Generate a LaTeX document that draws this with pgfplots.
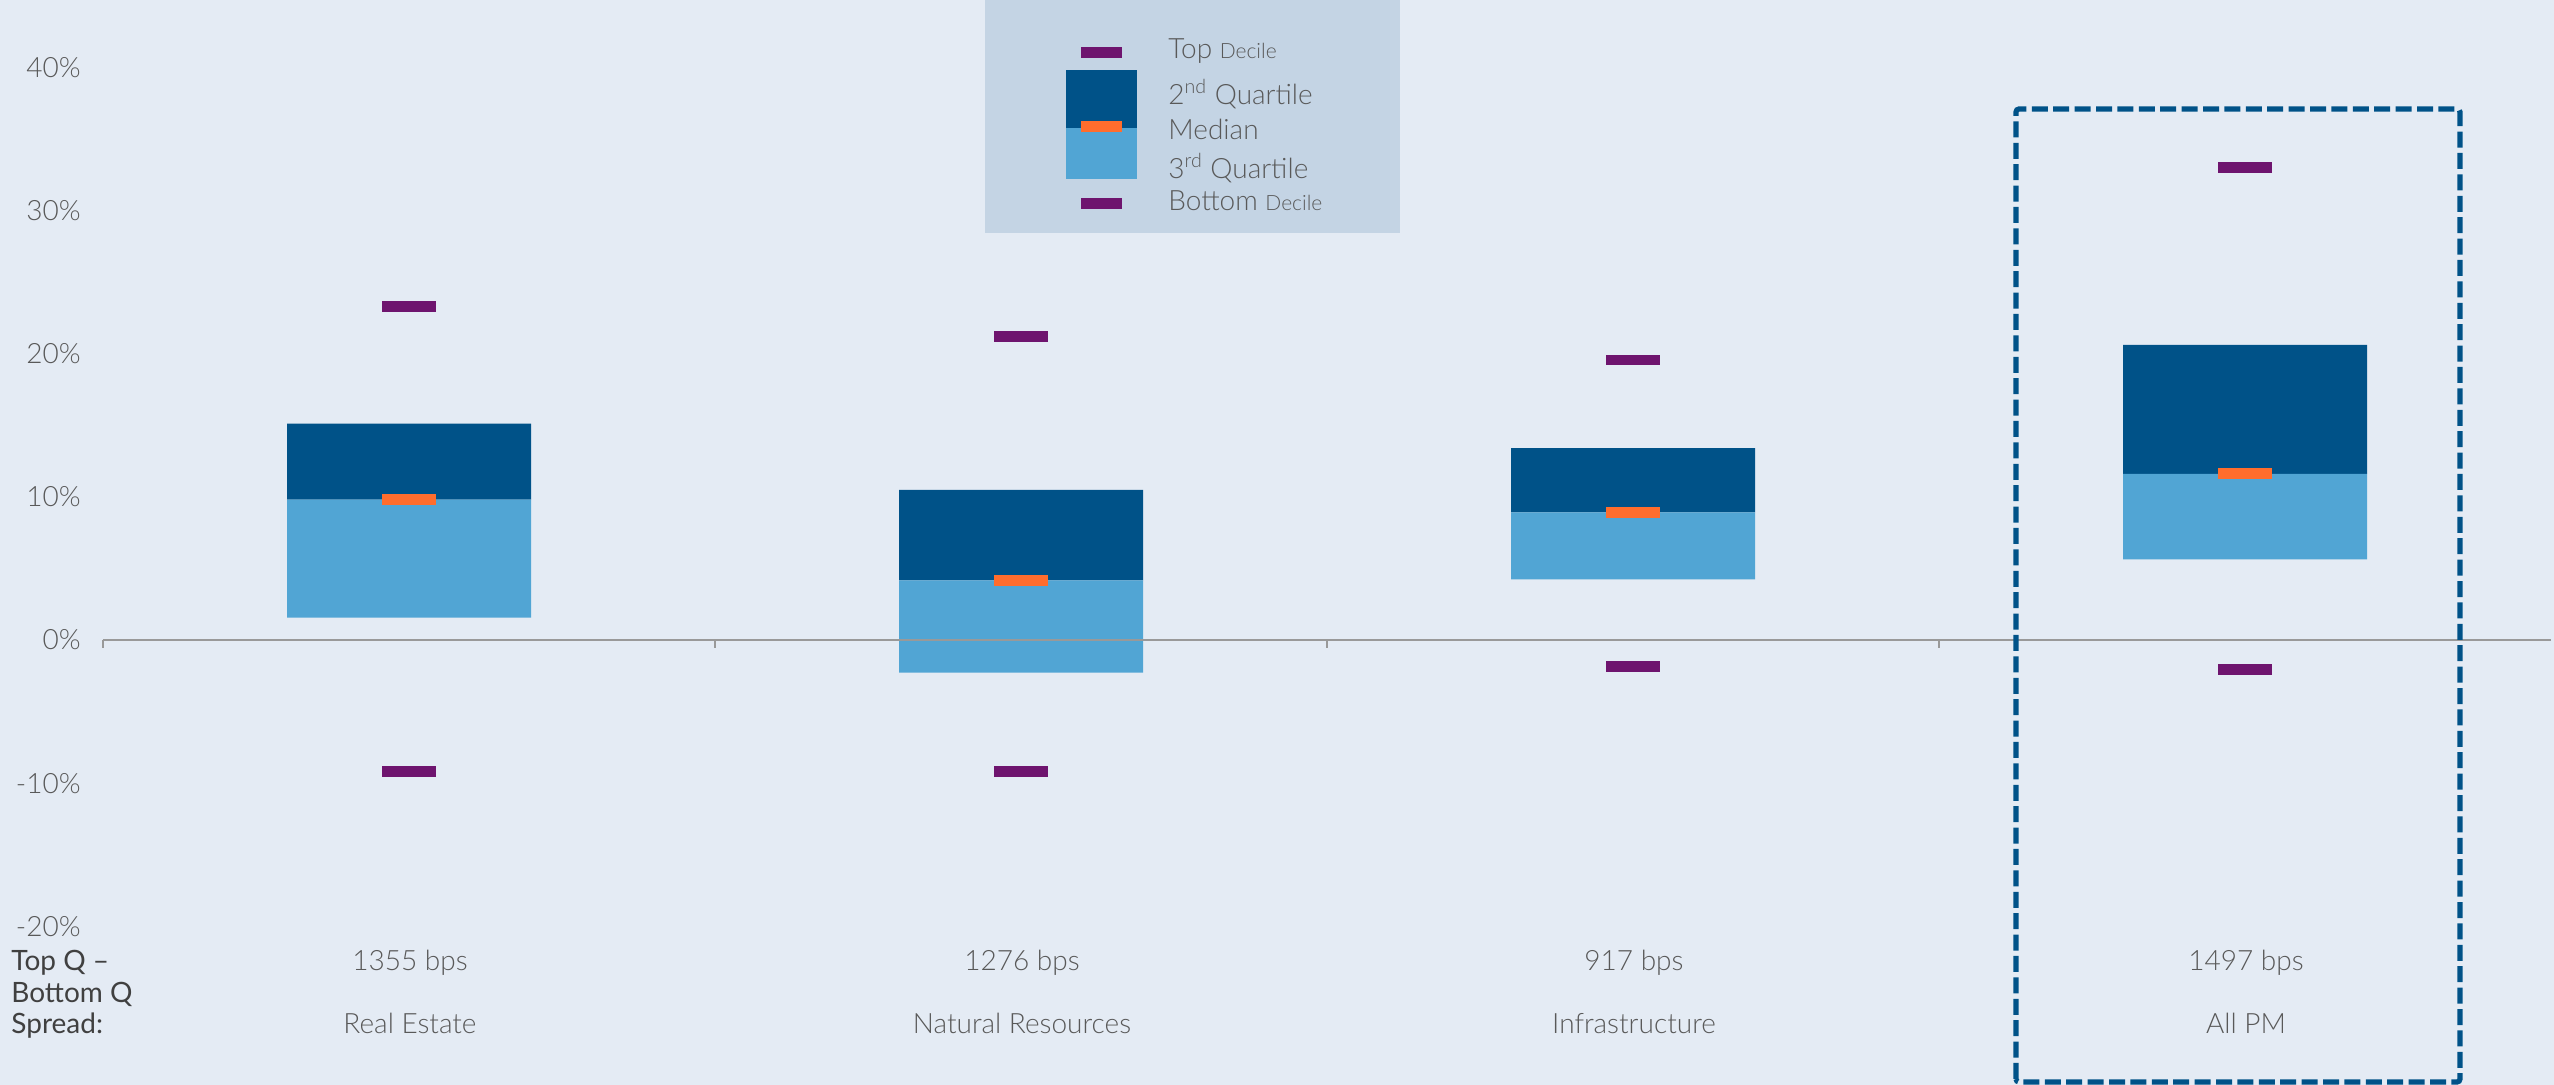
\documentclass[border=0pt]{standalone}
\usepackage{fontspec}
\setmainfont{Lato Light}
\newfontfamily\regfont{Lato}
\usepackage{pgfplots}
\pgfplotsset{compat=1.18}
\usepackage{pgfplotstable}

\definecolor{panelbg}{HTML}{E4EBF4}
\definecolor{legendbg}{HTML}{C4D4E4}
\definecolor{qdark}{HTML}{005288}
\definecolor{qlight}{HTML}{51A5D4}
\definecolor{medorange}{HTML}{FF6D2D}
\definecolor{decpurple}{HTML}{6E146E}
\definecolor{axisgray}{HTML}{999999}
\definecolor{txtgray}{HTML}{595959}
\definecolor{txtdark}{HTML}{404040}

% quartile / decile returns (%) per asset class
\pgfplotstableread{
pos topdec q2    med   q3    botdec
0   23.27  15.10  9.80  1.55 -9.18
1   21.19  10.48  4.15 -2.28 -9.19
2   19.55  13.40  8.90  4.23 -1.88
3   33.00  20.60 11.60  5.63 -2.06
}\returns

% short horizontal bar used for deciles and medians
\pgfdeclareplotmark{hbar}{%
  \pgfpathrectangle{\pgfpoint{-13.5pt}{-2.7pt}}{\pgfpoint{27pt}{5.4pt}}%
  \pgfusepathqfill}

\pgfplotsset{
  panel/.style={
    at={(51.5pt,0pt)}, anchor=south west,
    scale only axis, width=1224pt, height=542.5pt,
    xmin=-0.5, xmax=3.5, ymin=-31.08, ymax=44.69,
  },
}

\begin{document}
\begin{tikzpicture}
\useasboundingbox (0,0) rectangle (1277pt,542.5pt);
\fill[panelbg] (0,0) rectangle (1277pt,542.5pt);

% floating boxes: 3rd quartile -> median -> 2nd quartile
\begin{axis}[panel, hide axis, ybar stacked, stack negative=on previous,
    bar width=122pt]
  \addplot[draw=none, fill=none] table[x=pos, y=q3]{\returns};
  \addplot[draw=none, fill=qlight] table[x=pos, y expr=\thisrow{med}-\thisrow{q3}]{\returns};
  \addplot[draw=none, fill=qdark] table[x=pos, y expr=\thisrow{q2}-\thisrow{med}]{\returns};
\end{axis}

% zero line, y ticks, deciles and medians
\begin{axis}[panel, clip=false,
    axis line style={draw=none},
    xtick=\empty,
    ytick={-20,-10,0,10,20,30,40},
    yticklabels={-20\%,-10\%,0\%,10\%,20\%,30\%,40\%},
    major tick length=0pt,
    yticklabel style={anchor=east, inner sep=0pt, xshift=-11pt,
      font=\fontsize{14}{16}\selectfont, text=txtgray},
  ]
  \draw[axisgray, line width=1pt] (axis cs:-0.5,0) -- (axis cs:3.5,0);
  \draw[axisgray, line width=1pt] (axis cs:-0.5,0) -- ++(0pt,-4.2pt);
  \draw[axisgray, line width=1pt] (axis cs:0.5,0) -- ++(0pt,-4.2pt);
  \draw[axisgray, line width=1pt] (axis cs:1.5,0) -- ++(0pt,-4.2pt);
  \draw[axisgray, line width=1pt] (axis cs:2.5,0) -- ++(0pt,-4.2pt);
  \addplot[only marks, mark=hbar, decpurple] table[x=pos, y=topdec]{\returns};
  \addplot[only marks, mark=hbar, decpurple] table[x=pos, y=botdec]{\returns};
  \addplot[only marks, mark=hbar, medorange] table[x=pos, y=med]{\returns};
\end{axis}

% spread row and category names
\begin{scope}[every node/.style={anchor=base, inner sep=0pt, text=txtgray,
    font=\fontsize{14}{16}\selectfont}]
  \node at (205pt,57pt) {1355 bps};
  \node at (511pt,57pt) {1276 bps};
  \node at (817pt,57pt) {917 bps};
  \node at (1123pt,57pt) {1497 bps};
  \node at (205pt,25.5pt) {Real Estate};
  \node at (511pt,25.5pt) {Natural Resources};
  \node at (817pt,25.5pt) {Infrastructure};
  \node at (1123pt,25.5pt) {All PM};
\end{scope}
\begin{scope}[every node/.style={anchor=base west, inner sep=0pt, text=txtdark,
    font=\regfont\fontsize{14}{16}\selectfont}]
  \node at (5.5pt,57pt) {Top Q –};
  \node at (5.5pt,41pt) {Bottom Q};
  \node at (5.5pt,25.5pt) {Spread:};
\end{scope}

% legend
\fill[legendbg] (492.5pt,426pt) rectangle (700pt,542.5pt);
\fill[decpurple] (540.5pt,513.5pt) rectangle (561pt,519pt);
\fill[qdark] (533pt,478.5pt) rectangle (568.5pt,507.5pt);
\fill[qlight] (533pt,453pt) rectangle (568.5pt,478.5pt);
\fill[medorange] (540.5pt,476.5pt) rectangle (561pt,482pt);
\fill[decpurple] (540.5pt,438pt) rectangle (561pt,443.5pt);
\begin{scope}[every node/.style={anchor=base west, inner sep=0pt, text=txtgray,
    font=\fontsize{14}{16}\selectfont}]
  \node at (584pt,513.3pt) {Top {\fontsize{10.5}{12}\selectfont Decile}};
  \node at (584pt,490.3pt) {2\textsuperscript{nd} Quartile};
  \node at (584pt,472.8pt) {Median};
  \node at (584pt,453.3pt) {3\textsuperscript{rd} Quartile};
  \node at (584pt,437.2pt) {Bottom {\fontsize{10.5}{12}\selectfont Decile}};
\end{scope}

% highlight around the all-PM column
\draw[qdark, line width=2.6pt, dash pattern=on 8pt off 2.7pt, rounded corners=1.5pt]
  (1008pt,1.5pt) rectangle (1230pt,488pt);
\end{tikzpicture}
\end{document}
